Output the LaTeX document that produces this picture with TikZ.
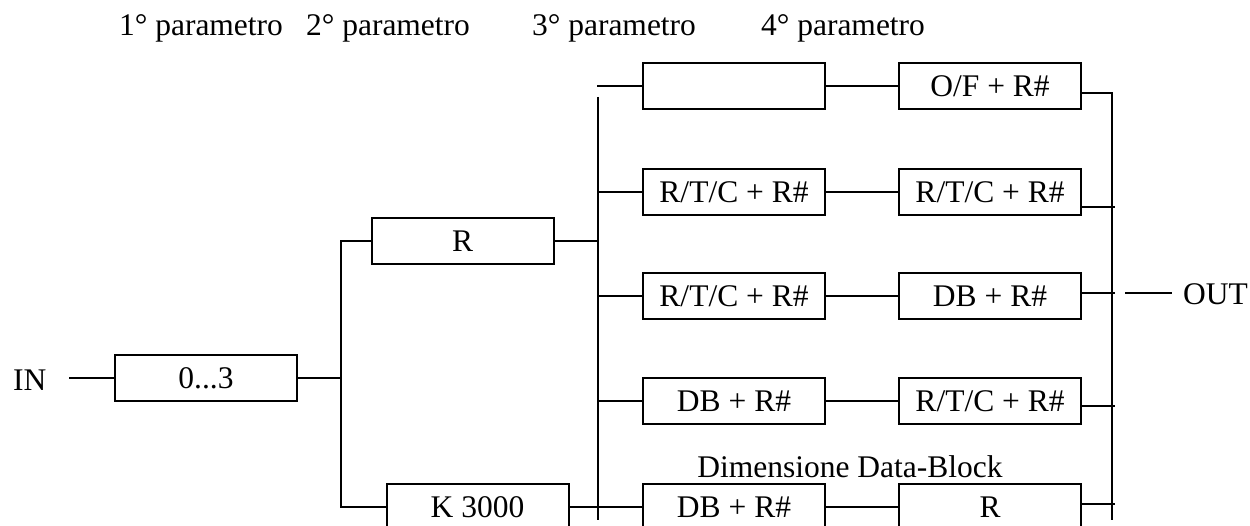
\documentclass[tikz,border=0pt]{standalone}
\usepackage{fontspec}
\setmainfont{Liberation Serif}
\begin{document}
\begin{tikzpicture}[x=1pt,y=-1pt,
  blk/.style={draw, line width=2pt, minimum width=182pt, minimum height=46pt, inner sep=0pt, font=\fontsize{31.5}{36}\selectfont},
  lbl/.style={inner sep=0pt, font=\fontsize{31.5}{36}\selectfont},
  wire/.style={line width=2pt}]
\useasboundingbox (0,0) rectangle (1250,526);
\clip (0,0) rectangle (1250,526);
% top labels
\node[lbl] (p1) at (201,28) {1° parametro};
\node[lbl] (p2) at (388,28) {2° parametro};
\node[lbl] (p3) at (614,28) {3° parametro};
\node[lbl] (p4) at (843,28) {4° parametro};
% boxes
\node[lbl, anchor=west] (inl) at (13,380) {IN};
\node[blk] (in0) at (206,378) {0...3};
\node[blk] (rA) at (462.5,241) {R};
\node[blk] (k) at (477.5,507) {K 3000};
\node[blk] (c3r1) at (734,86) {};
\node[blk] (c3r2) at (734,192) {R/T/C + R\#};
\node[blk] (c3r3) at (734,296) {R/T/C + R\#};
\node[blk] (c3r4) at (734,401) {DB + R\#};
\node[blk] (c3r5) at (734,507) {DB + R\#};
\node[blk] (c4r1) at (990,86) {O/F + R\#};
\node[blk] (c4r2) at (990,192) {R/T/C + R\#};
\node[blk] (c4r3) at (990,296) {DB + R\#};
\node[blk] (c4r4) at (990,401) {R/T/C + R\#};
\node[blk] (c4r5) at (990,507) {R};
\node[lbl] (dim) at (850,467) {Dimensione Data-Block};
\node[lbl, anchor=west] (outl) at (1183,294) {OUT};
% coordinates
\coordinate (inS) at (69,378);
\coordinate (lbB) at (341,507);
\coordinate (mbT) at (598,97);
\coordinate (mbB) at (598,520);
\coordinate (m1) at (597,86);
\coordinate (rbT) at (1112,93);
\coordinate (rbB) at (1112,520);
\coordinate (outS) at (1125,293);
\coordinate (outE) at (1172,293);
% wires
\draw[wire] (inS) -- (in0.west);
\draw[wire] (in0.east) -- (in0.east -| lbB);
\draw[wire] (rA.west) -| (lbB) -- (k.west);
\draw[wire] (rA.east) -- (rA.east -| mbT);
\draw[wire] (mbT) -- (mbB);
\draw[wire] (m1) -- (c3r1.west);
\draw[wire] (c3r2.west -| mbT) -- (c3r2.west);
\draw[wire] (c3r3.west -| mbT) -- (c3r3.west);
\draw[wire] (c3r4.west -| mbT) -- (c3r4.west);
\draw[wire] (k.east) -- (c3r5.west);
\draw[wire] (c3r1.east) -- (c4r1.west);
\draw[wire] (c3r2.east) -- (c4r2.west);
\draw[wire] (c3r3.east) -- (c4r3.west);
\draw[wire] (c3r4.east) -- (c4r4.west);
\draw[wire] (c3r5.east) -- (c4r5.west);
\draw[wire] (c4r1.east |- rbT) -- (rbT) -- (rbB);
\draw[wire] ([yshift=-15pt]c4r2.east) -- ++(33,0);
\draw[wire] ([yshift=3pt]c4r3.east) -- ++(33,0);
\draw[wire] ([yshift=-5pt]c4r4.east) -- ++(33,0);
\draw[wire] ([yshift=3pt]c4r5.east) -- ++(33,0);
\draw[wire] (outS) -- (outE);
\end{tikzpicture}
\end{document}
